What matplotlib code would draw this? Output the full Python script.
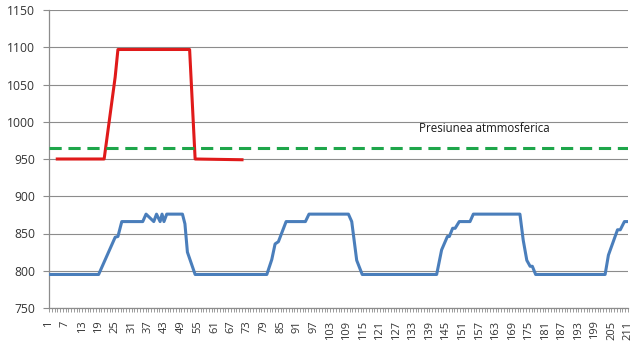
import matplotlib
matplotlib.use("Agg")
import matplotlib.pyplot as plt
from matplotlib.ticker import MultipleLocator, FixedLocator

plt.rcParams['font.family'] = ['Open Sans', 'DejaVu Sans']

# Category axis
n_categories = 211
x_labels = list(range(1, n_categories + 1, 6))

# Blue series: (category, value) breakpoints
blue_x = [1, 19, 25, 26, 27.4, 35, 36.2, 39, 40, 41.3, 42, 42.7, 43.7, 49.4, 50.3, 51.2, 54,
          80, 81.8, 83, 84.2, 87, 94, 95.3, 109.6, 110.8, 112.6, 114.6,
          141.6, 143.4, 145.5, 146.2, 147.4, 148.3, 149.8, 153.7, 154.9,
          171.8, 173, 174.3, 175.5, 176.3, 177.5, 202.7, 203.9, 207.2, 208.2, 209.7, 211]
blue_y = [795, 795, 845, 846, 866, 866, 876, 866, 876, 866, 876, 866, 876, 876, 863, 825, 795,
          795, 815, 836, 839, 866, 866, 876, 876, 866, 814, 795,
          795, 828, 846, 846, 857, 857, 866, 866, 876,
          876, 841, 814, 806, 806, 795, 795, 821, 855, 855, 866, 866]

# Red series
red_x = [4, 21, 25, 26, 52, 54, 71]
red_y = [950, 950, 1060, 1097, 1097, 950, 949]

# Green series: atmospheric pressure
green_x = [1, 211]
green_y = [965, 965]
green_label = "Presiunea atmmosferica"

fig = plt.figure(figsize=(6.4, 3.5), dpi=100)
ax = fig.add_axes([49 / 640, 1 - 308 / 350, (628 - 49) / 640, (308 - 10) / 350])

ax.plot(blue_x, blue_y, color='#4a7ebb', lw=2.2, solid_joinstyle='round', zorder=3)
ax.plot(red_x, red_y, color='#e01a1a', lw=2.2, solid_joinstyle='round', zorder=3)
ax.plot(green_x, green_y, color='#1ea64a', lw=2.2, dashes=(4, 2.2), zorder=3)
ax.text(158.8, 991, green_label, fontsize=8.3, ha='center', va='center', color='#1a1a1a')

ax.set_xlim(1, n_categories)
ax.set_ylim(750, 1150)
ax.yaxis.set_major_locator(MultipleLocator(50))
ax.grid(axis='y', color='#8c8c8c', lw=0.8)
ax.set_axisbelow(True)

ax.xaxis.set_major_locator(FixedLocator(x_labels))
ax.set_xticklabels([str(v) for v in x_labels], rotation=90)
ax.xaxis.set_minor_locator(FixedLocator(list(range(1, n_categories + 1))))
ax.tick_params(axis='x', which='both', direction='out', length=3, width=0.6, color='#8c8c8c',
               labelsize=8, labelcolor='#333333', pad=6)
ax.tick_params(axis='y', which='both', direction='out', length=4, width=0.8, color='#8c8c8c',
               labelsize=8.7, labelcolor='#333333', pad=6)

for s in ['top', 'right']:
    ax.spines[s].set_visible(False)
for s in ['left', 'bottom']:
    ax.spines[s].set_color('#8c8c8c')
    ax.spines[s].set_linewidth(0.9)

fig.savefig('out.png', dpi=100)
